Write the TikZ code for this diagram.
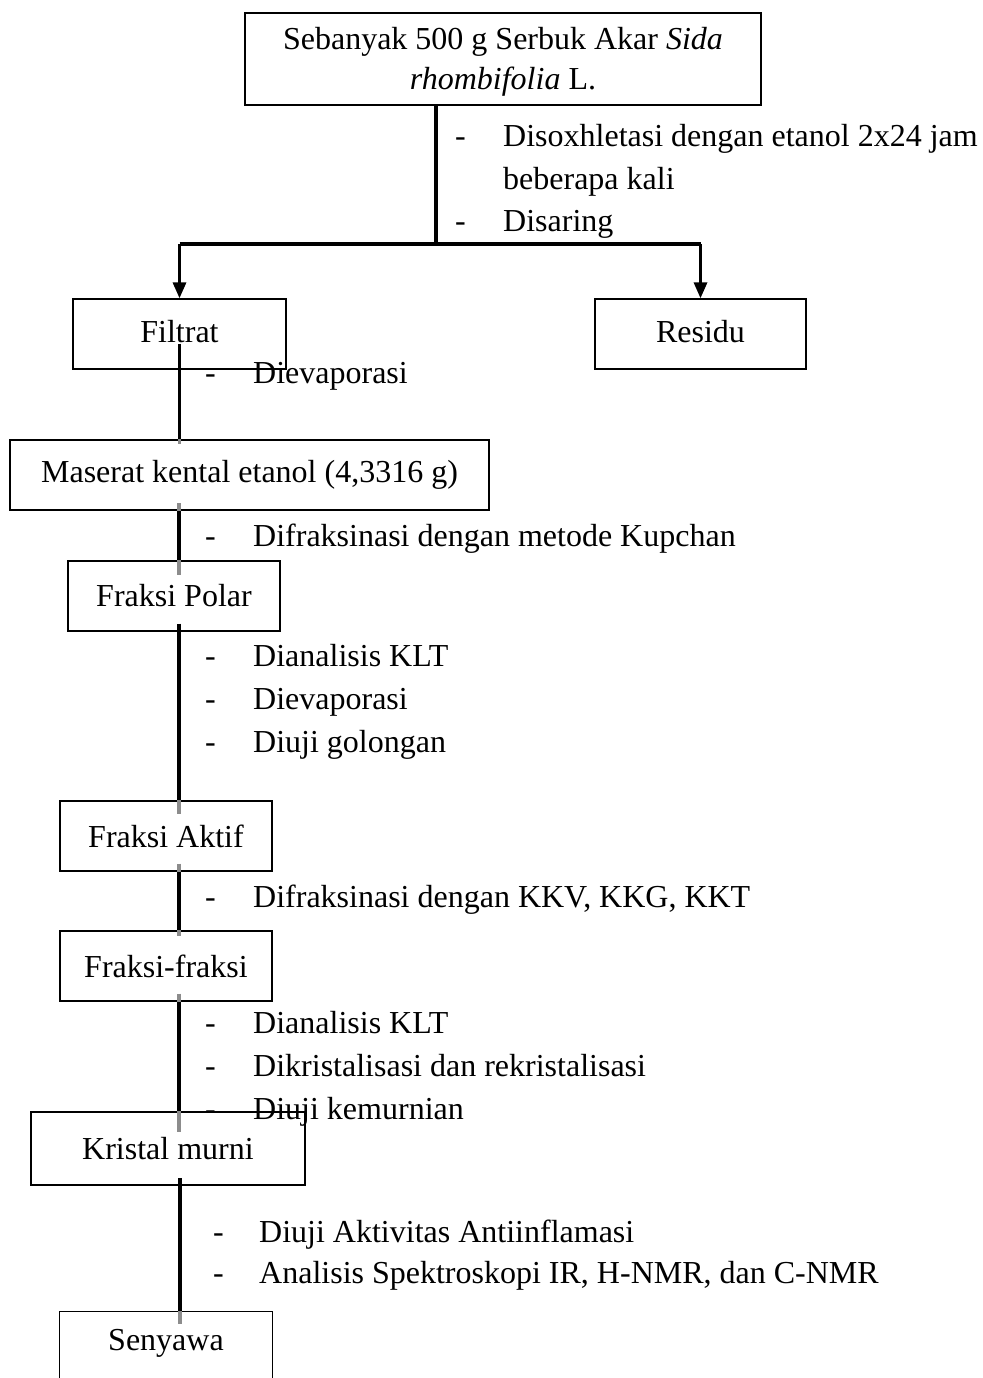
\documentclass[tikz,border=0pt]{standalone}
\usepackage{fontspec}
\setmainfont{Liberation Serif}
\usetikzlibrary{arrows.meta,calc}
\begin{document}
\begin{tikzpicture}[x=1pt,y=-1pt,
  box/.style={draw, line width=1.3pt, inner sep=0pt, minimum height=70pt,
    font=\fontsize{32}{40}\selectfont},
  lbl/.style={anchor=mid west, inner sep=0pt, font=\fontsize{32}{40}\selectfont},
  conn/.style={line width=3.2pt},
  ghost/.style={line width=3.2pt, draw=black!45},
  arr/.style={-{Triangle[length=16pt,width=13pt]}}]
\useasboundingbox (0,0) rectangle (982,1378);
\clip (0,0) rectangle (982,1378);

% boxes
\node[box, align=center, minimum width=516pt, minimum height=92pt] (top) at (503,59)
  {\rule{0pt}{28pt}Sebanyak 500 g Serbuk Akar \textit{Sida}\\\textit{rhombifolia} L.};
\node[box, minimum width=213pt, text depth=6pt] (filtrat) at (179.5,334) {Filtrat};
\node[box, minimum width=211pt, text depth=6pt] (residu) at (700.5,334) {Residu};
\node[box, minimum width=479pt] (maserat) at (249.5,475) {Maserat kental etanol (4,3316 g)};
\node[box, minimum width=212pt] (polar) at (174,596) {Fraksi Polar};
\node[box, minimum width=212pt] (aktif) at (166,836) {Fraksi Aktif};
\node[box, minimum width=212pt] (fraksi) at (166,966) {Fraksi-fraksi};
\node[box, minimum width=274pt, minimum height=73pt] (kristal) at (168,1148.5) {Kristal murni};
\node[box, draw=none, minimum width=212pt, minimum height=62pt] (senyawa) at (166,1343) {Senyawa};
\draw[line width=1.3pt] (senyawa.south west) ++(0,40) |- (senyawa.north east) -- ++(0,102);

% split
\coordinate (split) at (436,244);
\coordinate (bl) at (179.5,244);
\coordinate (br) at (700.5,244);
\draw[conn] (split |- top.south) -- (split);
\draw[conn] (bl) -- (br);
\draw[conn, arr] (bl) -- (filtrat.north);
\draw[conn, arr] (br) -- (residu.north);

% vertical connectors
\draw[conn] (filtrat.south) ++(0,-26) -- (maserat.north -| filtrat.south);
\draw[ghost] (maserat.north -| filtrat.south) -- ++(0,5);

\coordinate (c1) at (179,503);
\draw[ghost] (c1) -- (maserat.south -| c1);
\draw[conn] (maserat.south -| c1) -- (polar.north -| c1);
\draw[ghost] (polar.north -| c1) -- ++(0,15);

\draw[conn] (polar.south -| c1) ++(0,-8) -- (aktif.north -| c1);
\draw[ghost] (aktif.north -| c1) -- ++(0,14);

\draw[ghost] (aktif.south -| c1) ++(0,-8) -- (aktif.south -| c1);
\draw[conn] (aktif.south -| c1) -- (fraksi.north -| c1);
\draw[ghost] (fraksi.north -| c1) -- ++(0,6);

\draw[ghost] (fraksi.south -| c1) ++(0,-8) -- (fraksi.south -| c1);
\draw[conn] (fraksi.south -| c1) -- (kristal.north -| c1);
\draw[ghost] (kristal.north -| c1) -- ++(0,21);

\coordinate (c2) at (180,1178);
\draw[conn] (c2) -- (senyawa.north -| c2);
\draw[ghost] (senyawa.north -| c2) -- ++(0,13);

% step labels
\node[lbl] (d1) at (455,144) {-};
\node[lbl] (t1) at (503,144) {Disoxhletasi dengan etanol 2x24 jam};
\node[lbl] (t1b) at (503,187) {beberapa kali};
\node[lbl] (d2) at (455,229) {-};
\node[lbl] (t2) at (503,229) {Disaring};

\node[lbl] (d3) at (205,381) {-};
\node[lbl] (t3) at (253,381) {Dievaporasi};

\node[lbl] (d4) at (205,544) {-};
\node[lbl] (t4) at (253,544) {Difraksinasi dengan metode Kupchan};

\node[lbl] (d5) at (205,664) {-};
\node[lbl] (t5) at (253,664) {Dianalisis KLT};
\node[lbl] (d6) at (205,707) {-};
\node[lbl] (t6) at (253,707) {Dievaporasi};
\node[lbl] (d7) at (205,750) {-};
\node[lbl] (t7) at (253,750) {Diuji golongan};

\node[lbl] (d8) at (205,905) {-};
\node[lbl] (t8) at (253,905) {Difraksinasi dengan KKV, KKG, KKT};

\node[lbl] (d9) at (205,1031) {-};
\node[lbl] (t9) at (253,1031) {Dianalisis KLT};
\node[lbl] (d10) at (205,1074) {-};
\node[lbl] (t10) at (253,1074) {Dikristalisasi dan rekristalisasi};
\node[lbl] (d11) at (205,1117) {-};
\node[lbl] (t11) at (253,1117) {Diuji kemurnian};

\node[lbl] (d12) at (213,1240) {-};
\node[lbl] (t12) at (259,1240) {Diuji Aktivitas Antiinflamasi};
\node[lbl] (d13) at (213,1281) {-};
\node[lbl] (t13) at (259,1281) {Analisis Spektroskopi IR, H-NMR, dan C-NMR};
\end{tikzpicture}
\end{document}
